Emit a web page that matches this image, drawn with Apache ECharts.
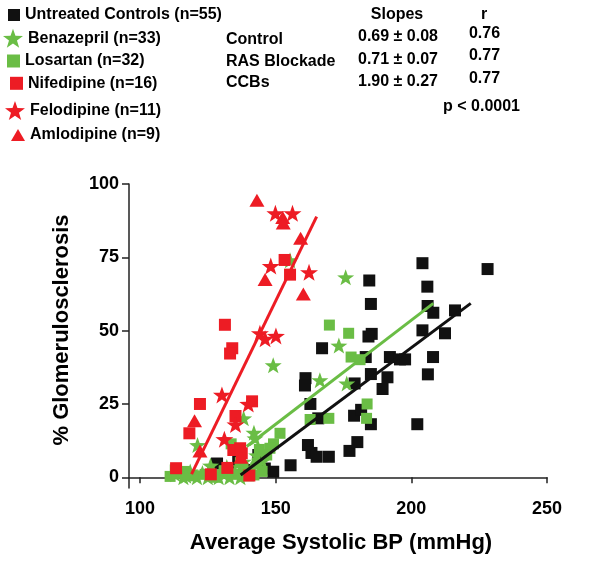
<!DOCTYPE html>
<html>
<head>
<meta charset="utf-8">
<script src="https://cdn.jsdelivr.net/npm/echarts@6/dist/echarts.min.js"></script>
<style>
html,body{margin:0;padding:0;background:#fff;}
#chart{width:600px;height:561px;}
</style>
</head>
<body>
<div id="chart"></div>
<script>
// ---- Data (x = average systolic BP mmHg, y = % glomerulosclerosis) ----
const controls = [[228.1,71.0],[204.1,73.0],[205.9,65.0],[184.5,67.1],[185.1,59.1],[206.0,58.4],[208.1,56.1],[216.1,56.9],[204.1,50.1],[212.4,49.1],[185.4,48.9],[184.2,48.0],[167.1,44.0],[208.0,41.0],[183.2,41.0],[192.1,41.0],[195.8,40.2],[197.7,40.2],[185.1,35.2],[206.1,35.1],[191.2,34.1],[161.0,33.8],[160.8,31.3],[179.1,32.0],[189.4,30.1],[162.8,25.0],[165.7,20.1],[178.9,21.0],[181.5,23.0],[185.1,18.1],[202.2,18.1],[161.9,11.0],[163.2,8.3],[165.1,7.0],[169.6,7.0],[177.2,9.0],[180.1,12.0],[155.5,4.1],[149.1,1.9],[128.4,4.7],[136.2,5.3],[143.6,7.6],[133.0,1.5],[140.0,2.5],[146.0,3.0]];
const benazepril = [[175.8,68.2],[155.3,74.0],[173.3,44.9],[149.1,38.2],[166.3,33.1],[176.2,32.0],[138.2,20.1],[142.0,15.2],[142.4,13.3],[121.2,11.0],[143.0,7.5],[138.1,5.3],[145.0,5.5],[113.0,1.0],[116.0,0.0],[118.5,2.0],[121.0,0.0],[123.0,1.5],[125.0,0.0],[127.0,2.0],[129.0,0.0],[131.0,1.0],[133.0,0.0],[135.0,2.0],[137.0,0.0],[139.0,1.5],[141.0,3.0],[126.0,4.0],[132.0,3.5],[117.0,0.5]];
const losartan = [[169.8,51.9],[176.9,49.1],[177.8,41.0],[181.1,40.1],[183.7,25.0],[183.5,20.1],[169.6,20.1],[162.7,19.7],[151.6,15.0],[149.2,11.4],[147.9,9.9],[146.7,7.6],[143.2,4.8],[142.0,0.8],[111.1,0.3],[116.6,2.0],[133.6,11.4],[120.0,0.5],[124.0,1.0],[128.0,0.0],[131.0,2.0],[135.0,1.0],[138.0,3.0],[140.0,0.5],[145.0,2.0],[113.0,2.5],[137.0,5.0],[144.0,9.5]];
const nifedipine = [[153.3,74.1],[155.3,69.1],[131.3,52.0],[134.0,44.0],[133.2,42.2],[122.1,25.0],[141.3,25.9],[135.2,20.9],[118.2,15.0],[134.4,9.3],[136.9,9.9],[137.5,8.2],[113.3,3.1],[126.1,1.0],[132.2,3.2],[140.3,0.6]];
const felodipine = [[149.9,90.0],[156.2,90.0],[148.2,72.0],[162.3,69.9],[144.2,49.1],[146.1,47.2],[150.1,48.2],[130.2,28.1],[139.9,25.0],[135.2,18.0],[131.1,13.0]];
const amlodipine = [[143.1,94.5],[152.6,88.6],[152.8,86.7],[159.2,81.5],[146.1,67.4],[160.2,62.5],[120.1,19.3],[122.1,9.0],[137.2,6.8]];

const controlFit = [[137.1,0.8],[221.9,59.3]];
const rasFit = [[139.3,10.5],[208.1,59.3]];
const ccbFit = [[119.0,1.1],[165.1,88.9]];

const seriesNames = ['Untreated Controls (n=55)','Benazepril (n=33)','Losartan (n=32)','Nifedipine (n=16)','Felodipine (n=11)','Amlodipine (n=9)'];
const xTicks = [100,150,200,250];
const yTicks = [0,25,50,75,100];
const xTitle = 'Average Systolic BP (mmHg)';
const yTitle = '% Glomerulosclerosis';
const tableHeader = ['Slopes','r'];
const tableGroups = ['Control','RAS Blockade','CCBs'];
const tableSlopes = ['0.69 ± 0.08','0.71 ± 0.07','1.90 ± 0.27'];
const tableR = ['0.76','0.77','0.77'];
const pText = 'p < 0.0001';

// ---- Styles ----
const BLACK = '#111111';
const GREEN = '#6abd45';
const RED = '#ed1c24';
const FONT = '"Liberation Sans", Arial, Helvetica, sans-serif';
const STAR = 'path://M100 0 L123.5 67.6 L195.1 69.1 L138 112.4 L158.8 180.9 L100 140 L41.2 180.9 L62 112.4 L4.9 69.1 L76.5 67.6 Z';

function legendItem(name, icon, left, centerY, w, h) {
  return {
    data: [{name: name, icon: icon}],
    left: left, top: centerY - 9, padding: 0, itemWidth: w, itemHeight: h,
    selectedMode: false,
    textStyle: {fontFamily: FONT, fontWeight: 'bold', fontSize: 16, color: '#000', lineHeight: 18}
  };
}

function txt(text, x, y, align, size) {
  return {type: 'text', x: x, y: y, style: {text: text, align: align, verticalAlign: 'middle', font: 'bold ' + (size || 16) + 'px ' + FONT, fill: '#000'}};
}

const graphics = [];
graphics.push(txt(tableHeader[0], 397, 15, 'center'));
graphics.push(txt(tableHeader[1], 484, 15, 'center'));
const gY = [40, 62, 83];
const sY = [37, 60, 82];
const rY = [34, 56, 79];
tableGroups.forEach((g, i) => graphics.push(txt(g, 226, gY[i], 'left')));
tableSlopes.forEach((s, i) => graphics.push(txt(s, 398, sY[i], 'center')));
tableR.forEach((r, i) => graphics.push(txt(r, 484.5, rY[i], 'center')));
graphics.push(txt(pText, 481.5, 107, 'center'));
graphics.push(txt(xTitle, 341, 543, 'center', 22));
graphics.push({type: 'text', x: 61.5, y: 330, rotation: Math.PI / 2,
  style: {text: yTitle, align: 'center', verticalAlign: 'middle', font: 'bold 22px ' + FONT, fill: '#000'}});

function scatter(name, data, symbol, size, color, z) {
  return {name: name, type: 'scatter', data: data, symbol: symbol, symbolSize: size,
    itemStyle: {color: color, opacity: 1}, z: z, emphasis: {disabled: true}, animation: false};
}
function fit(data, color) {
  return {type: 'line', data: data, symbol: 'none', lineStyle: {color: color, width: 3}, z: 10, animation: false, silent: true};
}

const chart = echarts.init(document.getElementById('chart'), null, {renderer: 'canvas'});
chart.setOption({
  animation: false,
  backgroundColor: '#fff',
  grid: {left: 129, right: 53, top: 184, bottom: 73, containLabel: false},
  xAxis: {
    type: 'value', min: 95.95, max: 250,
    axisLine: {show: true, lineStyle: {color: '#222', width: 1.5}},
    axisTick: {show: true, customValues: xTicks, length: 6, lineStyle: {color: '#222', width: 1.5}},
    axisLabel: {customValues: xTicks, margin: 12, fontFamily: FONT, fontWeight: 'bold', fontSize: 18, color: '#000'},
    splitLine: {show: false}
  },
  yAxis: {
    type: 'value', min: -3.65, max: 100,
    axisLine: {show: true, lineStyle: {color: '#222', width: 1.5}},
    axisTick: {show: true, customValues: yTicks, length: 7, lineStyle: {color: '#222', width: 1.5}},
    axisLabel: {customValues: yTicks, margin: 10, fontFamily: FONT, fontWeight: 'bold', fontSize: 18, color: '#000'},
    splitLine: {show: false}
  },
  legend: [
    legendItem(seriesNames[0], 'rect', 8, 15, 12, 12),
    legendItem(seriesNames[1], STAR, 3, 37.7, 20, 19),
    legendItem(seriesNames[2], 'rect', 7, 61, 13, 13),
    legendItem(seriesNames[3], 'rect', 10, 83.3, 13, 13),
    legendItem(seriesNames[4], STAR, 5, 110, 20, 19),
    legendItem(seriesNames[5], 'triangle', 11, 135, 14, 12)
  ],
  graphic: graphics,
  series: [
    scatter(seriesNames[0], controls, 'rect', 12, BLACK, 2),
    scatter(seriesNames[2], losartan, 'rect', 11, GREEN, 3),
    scatter(seriesNames[1], benazepril, STAR, [17, 16], GREEN, 4),
    scatter(seriesNames[3], nifedipine, 'rect', 12, RED, 5),
    scatter(seriesNames[4], felodipine, STAR, [18, 17], RED, 6),
    scatter(seriesNames[5], amlodipine, 'triangle', [15, 13], RED, 6),
    fit(controlFit, BLACK),
    fit(rasFit, GREEN),
    fit(ccbFit, RED)
  ]
});
</script>
</body>
</html>
